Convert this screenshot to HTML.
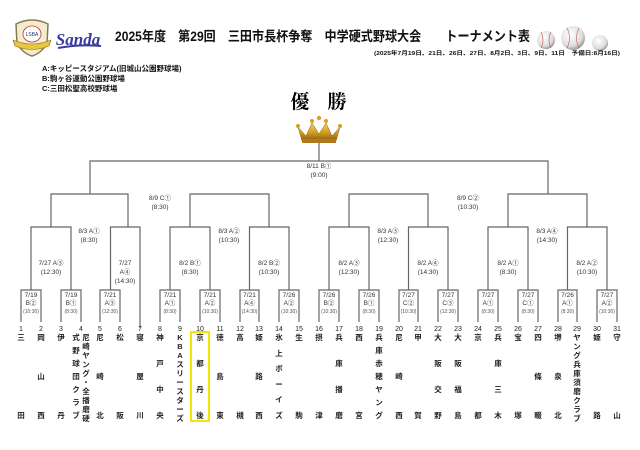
<!DOCTYPE html>
<html><head><meta charset="utf-8"><style>
html,body{margin:0;padding:0;background:#fff;width:640px;height:450px;overflow:hidden;position:relative}
svg{display:block;position:absolute;left:0;top:0}
text{font-family:"Liberation Sans","Noto Sans CJK JP",sans-serif}
.l{fill:none;stroke:#666;stroke-width:1.2}
.d{font-size:6.5px;fill:#333;text-anchor:middle}
.s{font-size:5px;fill:#555;text-anchor:middle}
.n{font-size:7px;fill:#222;text-anchor:middle}
.tm{position:absolute;top:333px;height:87px;width:12px;display:flex;flex-direction:column;justify-content:space-between;align-items:center;font-family:"Liberation Sans","Noto Sans CJK JP",sans-serif;font-size:7.5px;font-weight:bold;line-height:9px;color:#222}
.tm span{display:block;height:9px}
</style></head><body>
<svg width="640" height="450" viewBox="0 0 640 450" xmlns="http://www.w3.org/2000/svg">
<defs>
<radialGradient id="ball" cx="40%" cy="35%" r="70%"><stop offset="0" stop-color="#fff"/><stop offset="0.7" stop-color="#ddd"/><stop offset="1" stop-color="#888"/></radialGradient>
<linearGradient id="gold" x1="0" y1="0" x2="0" y2="1"><stop offset="0" stop-color="#f6d36a"/><stop offset="0.5" stop-color="#d9a021"/><stop offset="1" stop-color="#8a5a10"/></linearGradient>
</defs>
<path d="M16 24 Q32 16 48 24 L47 44 Q40 54 32 56 Q24 54 17 44 Z" fill="#f3ecd0" stroke="#8a7a50" stroke-width="1.5"/>
<ellipse cx="32" cy="34" rx="9" ry="8" fill="#fff" stroke="#b33" stroke-width="0.8"/>
<text x="32" y="36" font-size="5" text-anchor="middle" fill="#236">LSBA</text>
<path d="M13 40 Q32 48 51 40 L49 46 Q32 53 15 46 Z" fill="#e8c640" stroke="#8a6a10" stroke-width="0.6"/>
<text x="78" y="45" font-size="17" font-style="italic" font-weight="bold" fill="#3a3a9a" text-anchor="middle" style="font-family:'Liberation Serif',serif">Sanda</text>
<path d="M58 48 Q80 44 101 46" stroke="#3a3a9a" stroke-width="2" fill="none"/>
<text x="115" y="41" font-size="13.5" font-weight="bold" fill="#111" textLength="415" lengthAdjust="spacingAndGlyphs">2025年度　第29回　三田市長杯争奪　中学硬式野球大会　　トーナメント表</text>
<circle cx="546" cy="40" r="9" fill="url(#ball)"/>
<circle cx="573" cy="38" r="12" fill="url(#ball)"/>
<circle cx="600" cy="43" r="8" fill="url(#ball)"/>
<path d="M541 32 Q545 40 541 48 M551 32 Q547 40 551 48 M567 28 Q572 38 567 48 M579 28 Q574 38 579 48" stroke="#c55" stroke-width="0.6" fill="none"/>
<text x="374" y="55" font-size="5.5" font-weight="bold" fill="#111" textLength="246" lengthAdjust="spacingAndGlyphs">(2025年7月19日、21日、26日、27日、8月2日、3日、9日、11日　予備日:8月16日)</text>
<text x="42" y="71" font-size="7.5" font-weight="bold" fill="#111">A:キッピースタジアム(旧城山公園野球場)</text>
<text x="42" y="81" font-size="7.5" font-weight="bold" fill="#111">B:駒ヶ谷運動公園野球場</text>
<text x="42" y="91" font-size="7.5" font-weight="bold" fill="#111">C:三田松聖高校野球場</text>
<text x="300" y="108" font-size="19" font-weight="bold" fill="#000" text-anchor="middle" style="font-family:'Noto Serif CJK SC',serif">優</text>
<text x="337" y="108" font-size="19" font-weight="bold" fill="#000" text-anchor="middle" style="font-family:'Noto Serif CJK SC',serif">勝</text>
<path d="M298 127 L306 136 L312 123 L319 134 L326 123 L332 136 L340 127 L336 141 L302 141 Z" fill="url(#gold)" stroke="#8a5a10" stroke-width="0.5"/>
<rect x="302" y="139" width="34" height="4" fill="#b07818"/>
<circle cx="298" cy="126" r="2" fill="#d9a021"/><circle cx="340" cy="126" r="2" fill="#d9a021"/>
<circle cx="312" cy="121" r="2" fill="#d9a021"/><circle cx="326" cy="121" r="2" fill="#d9a021"/><circle cx="319" cy="118" r="2.2" fill="#d9a021"/>
<path class="l" d="M319 143 V161 M90 194 V161 H548 V194"/>
<text class="d" x="319" y="168">8/11 B①</text><text class="d" x="319" y="177">(9:00)</text>
<path class="l" d="M51 227 V194 H128 V227 M190 227 V194 H269 V227"/>
<path class="l" d="M349 227 V194 H428 V227 M508 227 V194 H587 V227"/>
<text class="d" x="160" y="200">8/9 C①</text><text class="d" x="160" y="209">(8:30)</text>
<text class="d" x="468" y="200">8/9 C②</text><text class="d" x="468" y="209">(10:30)</text>
<path class="l" d="M31 259 V227 H71 V259 M110.5 259 V227 H140 V259 M170 259 V227 H210 V259 M249.5 259 V227 H289 V259"/>
<path class="l" d="M329 259 V227 H369 V259 M408.5 259 V227 H448 V259 M488 259 V227 H528 V259 M567.5 259 V227 H607 V259"/>
<text class="d" x="89" y="233">8/3 A①</text><text class="d" x="89" y="242">(8:30)</text>
<text class="d" x="229" y="233">8/3 A②</text><text class="d" x="229" y="242">(10:30)</text>
<text class="d" x="388" y="233">8/3 A③</text><text class="d" x="388" y="242">(12:30)</text>
<text class="d" x="547" y="233">8/3 A④</text><text class="d" x="547" y="242">(14:30)</text>
<path class="l" d="M31 290 V259 M71 290 V259 M110.5 290 V259 M140 328 V259 M170 290 V259 M210 290 V259 M249.5 290 V259 M289 290 V259"/>
<path class="l" d="M329 290 V259 M369 290 V259 M408.5 290 V259 M448 290 V259 M488 290 V259 M528 290 V259 M567.5 290 V259 M607 290 V259"/>
<text class="d" x="51" y="265">7/27 A③</text><text class="d" x="51" y="274">(12:30)</text>
<text class="d" x="125" y="265">7/27</text><text class="d" x="125" y="274">A④</text><text class="d" x="125" y="283">(14:30)</text>
<text class="d" x="190" y="265">8/2 B①</text><text class="d" x="190" y="274">(8:30)</text>
<text class="d" x="269" y="265">8/2 B②</text><text class="d" x="269" y="274">(10:30)</text>
<text class="d" x="349" y="265">8/2 A③</text><text class="d" x="349" y="274">(12:30)</text>
<text class="d" x="428" y="265">8/2 A④</text><text class="d" x="428" y="274">(14:30)</text>
<text class="d" x="508" y="265">8/2 A①</text><text class="d" x="508" y="274">(8:30)</text>
<text class="d" x="587" y="265">8/2 A②</text><text class="d" x="587" y="274">(10:30)</text>
<path class="l" d="M21 322 V290 H41 V322 M61 322 V290 H81 V322 M100 322 V290 H120 V322 M160 322 V290 H180 V322 M200 322 V290 H220 V322 M240 322 V290 H259 V322 M279 322 V290 H299 V322"/>
<path class="l" d="M319 322 V290 H339 V322 M359 322 V290 H379 V322 M399 322 V290 H418 V322 M438 322 V290 H458 V322 M478 322 V290 H498 V322 M518 322 V290 H538 V322 M558 322 V290 H577 V322 M597 322 V290 H617 V322"/>
<g class="d">
<text x="31" y="297">7/19</text><text x="31" y="305">B②</text>
<text x="71" y="297">7/19</text><text x="71" y="305">B①</text>
<text x="110" y="297">7/21</text><text x="110" y="305">A③</text>
<text x="170" y="297">7/21</text><text x="170" y="305">A①</text>
<text x="210" y="297">7/21</text><text x="210" y="305">A②</text>
<text x="249.5" y="297">7/21</text><text x="249.5" y="305">A④</text>
<text x="289" y="297">7/26</text><text x="289" y="305">A②</text>
<text x="329" y="297">7/26</text><text x="329" y="305">B②</text>
<text x="369" y="297">7/26</text><text x="369" y="305">B①</text>
<text x="408.5" y="297">7/27</text><text x="408.5" y="305">C②</text>
<text x="448" y="297">7/27</text><text x="448" y="305">C③</text>
<text x="488" y="297">7/27</text><text x="488" y="305">A①</text>
<text x="528" y="297">7/27</text><text x="528" y="305">C①</text>
<text x="567.5" y="297">7/26</text><text x="567.5" y="305">A①</text>
<text x="607" y="297">7/27</text><text x="607" y="305">A②</text>
</g>
<g class="s">
<text x="31" y="313">(10:30)</text><text x="71" y="313">(8:30)</text><text x="110" y="313">(12:30)</text><text x="170" y="313">(8:30)</text>
<text x="210" y="313">(10:30)</text><text x="249.5" y="313">(14:30)</text><text x="289" y="313">(10:30)</text><text x="329" y="313">(10:30)</text>
<text x="369" y="313">(8:30)</text><text x="408.5" y="313">(10:30)</text><text x="448" y="313">(12:30)</text><text x="488" y="313">(8:30)</text>
<text x="528" y="313">(8:30)</text><text x="567.5" y="313">(8:30)</text><text x="607" y="313">(10:30)</text>
</g>
<g class="n">
<text x="21" y="331">1</text><text x="41" y="331">2</text><text x="61" y="331">3</text><text x="81" y="331">4</text><text x="100" y="331">5</text><text x="120" y="331">6</text><text x="140" y="331">7</text><text x="160" y="331">8</text><text x="180" y="331">9</text><text x="200" y="331">10</text><text x="220" y="331">11</text><text x="240" y="331">12</text><text x="259" y="331">13</text><text x="279" y="331">14</text><text x="299" y="331">15</text><text x="319" y="331">16</text><text x="339" y="331">17</text><text x="359" y="331">18</text><text x="379" y="331">19</text><text x="399" y="331">20</text><text x="418" y="331">21</text><text x="438" y="331">22</text><text x="458" y="331">23</text><text x="478" y="331">24</text><text x="498" y="331">25</text><text x="518" y="331">26</text><text x="538" y="331">27</text><text x="558" y="331">28</text><text x="577" y="331">29</text><text x="597" y="331">30</text><text x="617" y="331">31</text>
</g>
<rect x="191" y="332" width="18" height="89" fill="none" stroke="#f2e600" stroke-width="2"/>
</svg>
<div class="tm" style="left:15px"><span>三</span><span>田</span></div>
<div class="tm" style="left:35px"><span>岡</span><span>山</span><span>西</span></div>
<div class="tm" style="left:55px"><span>伊</span><span>丹</span></div>
<div class="tm" style="left:80px"><span>尼</span><span>崎</span><span>ヤ</span><span>ン</span><span>グ</span><span>・</span><span>全</span><span>播</span><span>磨</span><span>硬</span></div>
<div class="tm" style="left:70px"><span>式</span><span>野</span><span>球</span><span>団</span><span>ク</span><span>ラ</span><span>ブ</span></div>
<div class="tm" style="left:94px"><span>尼</span><span>崎</span><span>北</span></div>
<div class="tm" style="left:114px"><span>松</span><span>阪</span></div>
<div class="tm" style="left:134px"><span>寝</span><span>屋</span><span>川</span></div>
<div class="tm" style="left:154px"><span>神</span><span>戸</span><span>中</span><span>央</span></div>
<div class="tm" style="left:174px"><span>K</span><span>B</span><span>A</span><span>ス</span><span>リ</span><span>ー</span><span>ス</span><span>タ</span><span>ー</span><span>ズ</span></div>
<div class="tm" style="left:194px"><span>京</span><span>都</span><span>丹</span><span>後</span></div>
<div class="tm" style="left:214px"><span>徳</span><span>島</span><span>東</span></div>
<div class="tm" style="left:234px"><span>高</span><span>槻</span></div>
<div class="tm" style="left:253px"><span>姫</span><span>路</span><span>西</span></div>
<div class="tm" style="left:273px"><span>氷</span><span>上</span><span>ボ</span><span>ー</span><span>イ</span><span>ズ</span></div>
<div class="tm" style="left:293px"><span>生</span><span>駒</span></div>
<div class="tm" style="left:313px"><span>摂</span><span>津</span></div>
<div class="tm" style="left:333px"><span>兵</span><span>庫</span><span>播</span><span>磨</span></div>
<div class="tm" style="left:353px"><span>西</span><span>宮</span></div>
<div class="tm" style="left:373px"><span>兵</span><span>庫</span><span>赤</span><span>穂</span><span>ヤ</span><span>ン</span><span>グ</span></div>
<div class="tm" style="left:393px"><span>尼</span><span>崎</span><span>西</span></div>
<div class="tm" style="left:412px"><span>甲</span><span>賀</span></div>
<div class="tm" style="left:432px"><span>大</span><span>阪</span><span>交</span><span>野</span></div>
<div class="tm" style="left:452px"><span>大</span><span>阪</span><span>福</span><span>島</span></div>
<div class="tm" style="left:472px"><span>京</span><span>都</span></div>
<div class="tm" style="left:492px"><span>兵</span><span>庫</span><span>三</span><span>木</span></div>
<div class="tm" style="left:512px"><span>宝</span><span>塚</span></div>
<div class="tm" style="left:532px"><span>四</span><span>條</span><span>畷</span></div>
<div class="tm" style="left:552px"><span>堺</span><span>泉</span><span>北</span></div>
<div class="tm" style="left:571px"><span>ヤ</span><span>ン</span><span>グ</span><span>兵</span><span>庫</span><span>須</span><span>磨</span><span>ク</span><span>ラ</span><span>ブ</span></div>
<div class="tm" style="left:591px"><span>姫</span><span>路</span></div>
<div class="tm" style="left:611px"><span>守</span><span>山</span></div>
</body></html>
